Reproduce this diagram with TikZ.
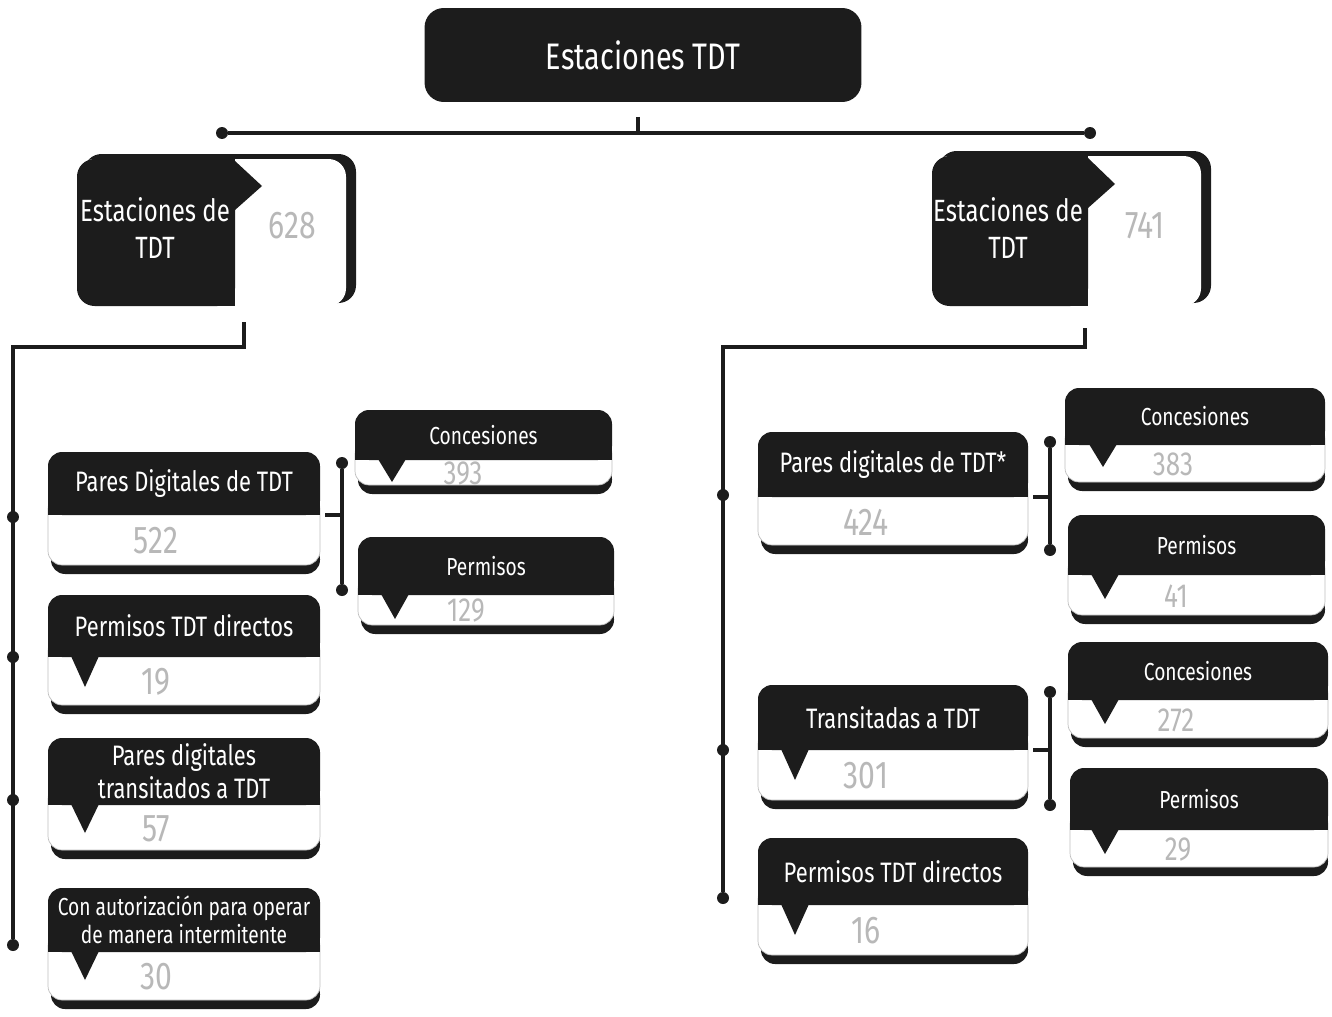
\documentclass[tikz,border=0pt]{standalone}
\usepackage{fontspec}
\setmainfont{Fira Sans}[FakeStretch=0.78]
\usepackage{tikz}
\usetikzlibrary{positioning, calc}
\definecolor{oscuro}{HTML}{1C1C1C}
\tikzset{
    cabecera/.style={text=white, align=center, inner sep=0pt, font=\fontsize{16}{19}\selectfont},
    chica/.style={font=\fontsize{14}{16}\selectfont},
    grande/.style={font=\fontsize{17.5}{21}\selectfont},
    cifra/.style={text=black!28, inner sep=0pt, font=\fontsize{22}{24}\selectfont},
    titulo/.style={rectangle, fill=oscuro, rounded corners=11pt, text=white, minimum width=8.74cm, minimum height=1.88cm, font=\fontsize{21}{24}\selectfont},
    punto/.style={circle, fill=oscuro, inner sep=0pt, minimum size=0.24cm},
    linea/.style={line width=2.2pt, draw=oscuro}
}
\newcommand{\cifrachica}{\fontsize{19}{20}\selectfont}
% tarjeta: [estilo]{nombre}{izq}{arriba}{der}{corte}{abajo}{texto}{cifra}
\newcommand{\tarjeta}[9][]{%
    \fill[oscuro, rounded corners=8pt] (#3+3,#7-20) rectangle (#5,#7+9);
    \filldraw[fill=white, draw=gray!50, rounded corners=8pt] (#3,#6-20) rectangle (#5,#7);
    \fill[oscuro, rounded corners=8pt] (#3,#4) rectangle (#5,#6);
    \fill[oscuro] (#3,#6-15) rectangle (#5,#6);
    \node[cabecera, #1] (#2) at ({(#3+#5)/2},{(#4+#6)/2}) {#8};
    \node[cifra] (#2 n) at (#3+108,{(#6+#7)/2+1}) {#9};
    \coordinate (#2 e) at (#5,#6);
}
% pico: {x}{corte}{alto}
\newcommand{\pico}[3]{\fill[oscuro] (#1-14,#2-1) -- (#1,#2+#3) -- (#1+14,#2-1) -- cycle;}

\begin{document}
\begin{tikzpicture}[x=0.02cm, y=-0.02cm]
    \useasboundingbox (0,0) rectangle (1332,1017);

    % raiz
    \node[titulo] (tit) at (643,55) {Estaciones TDT};
    \node[punto] (bi) at (222,133) {};
    \node[punto] (bd) at (1090,133) {};
    \coordinate (tt) at (638,117);
    \coordinate (tb) at (638,133);
    \draw[linea] (bi) -- (bd);
    \draw[linea] (tt) -- (tb);

    % estaciones izquierda
    \fill[oscuro, rounded corners=10pt] (84,154) rectangle (356,303);
    \fill[white, rounded corners=10pt] (77,159) rectangle (346,306);
    \fill[oscuro, rounded corners=10pt] (77,159) rectangle (235,306);
    \fill[oscuro] (215,159) rectangle (235,306);
    \fill[oscuro] (235,161) -- (262,186) -- (235,210) -- cycle;
    \node[cabecera, grande] (etl) at (155,228) {Estaciones de\\TDT};
    \node[cifra] (etl n) at (292,226) {628};

    % estaciones derecha
    \fill[oscuro, rounded corners=10pt] (939,151) rectangle (1211,303);
    \fill[white, rounded corners=10pt] (932,156) rectangle (1201,306);
    \fill[oscuro, rounded corners=10pt] (932,156) rectangle (1088,306);
    \fill[oscuro] (1068,156) rectangle (1088,306);
    \fill[oscuro] (1088,158) -- (1115,184) -- (1088,208) -- cycle;
    \node[cabecera, grande] (etr) at (1008,228) {Estaciones de\\TDT};
    \node[cifra] (etr n) at (1145,226) {741};

    % columna izquierda
    \tarjeta{pdig}{48}{452}{320}{515}{565}{Pares Digitales de TDT}{522}
    \tarjeta{pdir}{48}{595}{320}{657}{705}{Permisos TDT directos}{19}
    \pico{85}{657}{30}
    \tarjeta{ptra}{48}{738}{320}{805}{850}{Pares digitales\\transitados a TDT}{57}
    \pico{85}{805}{28}
    \tarjeta[chica]{paut}{48}{888}{320}{952}{1000}{Con autorización para operar\\de manera intermitente}{30}
    \pico{85}{952}{28}
    \tarjeta[chica]{conc1}{355}{410}{612}{460}{485}{Concesiones}{\cifrachica 393}
    \pico{392}{460}{22}
    \tarjeta[chica]{perm1}{358}{537}{614}{595}{625}{Permisos}{\cifrachica 129}
    \pico{395}{595}{24}

    % columna derecha
    \tarjeta{rpd}{758}{432}{1028}{497}{545}{Pares digitales de TDT*}{424}
    \tarjeta{rtr}{758}{685}{1028}{750}{800}{Transitadas a TDT}{301}
    \pico{795}{750}{30}
    \tarjeta{rdir}{758}{838}{1028}{905}{955}{Permisos TDT directos}{16}
    \pico{795}{905}{30}
    \tarjeta[chica]{rc1}{1065}{388}{1325}{445}{482}{Concesiones}{\cifrachica 383}
    \pico{1103}{445}{22}
    \tarjeta[chica]{rp1}{1068}{515}{1325}{575}{615}{Permisos}{\cifrachica 41}
    \pico{1105}{575}{24}
    \tarjeta[chica]{rc2}{1068}{642}{1328}{700}{738}{Concesiones}{\cifrachica 272}
    \pico{1105}{700}{24}
    \tarjeta[chica]{rp2}{1070}{768}{1328}{830}{867}{Permisos}{\cifrachica 29}
    \pico{1105}{830}{24}

    % ramas izquierda
    \coordinate (la) at (244,322);
    \coordinate (lb) at (244,347);
    \coordinate (lc) at (13,347);
    \node[punto] (l1) at (13,517) {};
    \node[punto] (l2) at (13,657) {};
    \node[punto] (l3) at (13,800) {};
    \node[punto] (l4) at (13,945) {};
    \draw[linea] (la) -- (lb) -- (lc) -- (l4);
    \node[punto] (s1) at (342,463) {};
    \node[punto] (s2) at (342,590) {};
    \draw[linea] (s1) -- (s2);
    \draw[linea] ([xshift=0.1cm]pdig e) -- (pdig e -| s1);

    % ramas derecha
    \coordinate (ra) at (1085,328);
    \coordinate (rb) at (1085,347);
    \coordinate (rc) at (723,347);
    \node[punto] (r1) at (723,495) {};
    \node[punto] (r2) at (723,750) {};
    \node[punto] (r3) at (723,898) {};
    \draw[linea] (ra) -- (rb) -- (rc) -- (r3);
    \node[punto] (t1) at (1050,442) {};
    \node[punto] (t2) at (1050,550) {};
    \node[punto] (t3) at (1050,692) {};
    \node[punto] (t4) at (1050,805) {};
    \draw[linea] (t1) -- (t2);
    \draw[linea] (t3) -- (t4);
    \draw[linea] ([xshift=0.1cm]rpd e) -- (rpd e -| t1);
    \draw[linea] ([xshift=0.1cm]rtr e) -- (rtr e -| t3);
\end{tikzpicture}
\end{document}
